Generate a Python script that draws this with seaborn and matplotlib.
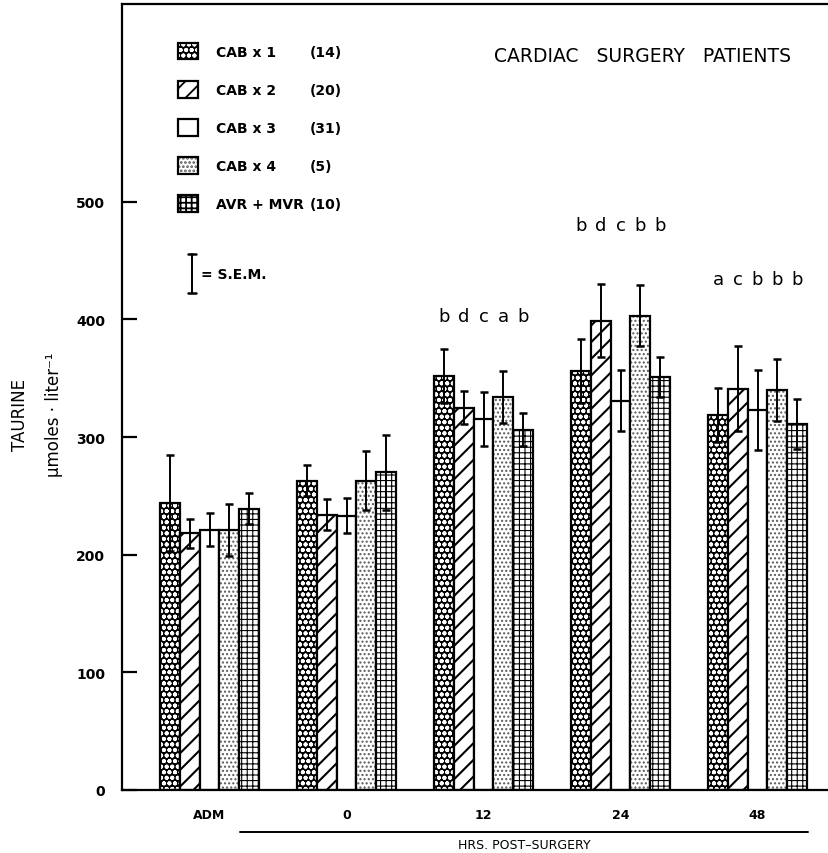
import matplotlib
matplotlib.use("Agg")
import matplotlib.pyplot as plt
import matplotlib.lines as mlines
import seaborn as sns
import pandas as pd
import numpy as np

# ---------------- data ----------------
times = ["ADM", "0", "12", "24", "48"]
groups = ["CAB x 1", "CAB x 2", "CAB x 3", "CAB x 4", "AVR + MVR"]
counts = ["(14)", "(20)", "(31)", "(5)", "(10)"]

cab1_mean = [244, 263, 352, 356, 319]
cab2_mean = [218, 234, 325, 399, 341]
cab3_mean = [221, 233, 315, 331, 323]
cab4_mean = [221, 263, 334, 403, 340]
avr_mean = [239, 270, 306, 351, 311]

cab1_sem = [41, 13, 23, 27, 23]
cab2_sem = [12, 13, 14, 31, 36]
cab3_sem = [14, 15, 23, 26, 34]
cab4_sem = [22, 25, 22, 26, 26]
avr_sem = [13, 32, 14, 17, 21]

sig_times = ["12", "24", "48"]
sig_letters = [["b", "d", "c", "a", "b"],
               ["b", "d", "c", "b", "b"],
               ["a", "c", "b", "b", "b"]]
sig_level = [403, 480, 434]

yticks = [0, 100, 200, 300, 400, 500]

means = [cab1_mean, cab2_mean, cab3_mean, cab4_mean, avr_mean]
sems = [cab1_sem, cab2_sem, cab3_sem, cab4_sem, avr_sem]

df = pd.DataFrame({
    "time": [t for g in groups for t in times],
    "group": [g for g in groups for t in times],
    "value": [v for m in means for v in m],
})

# ---------------- style ----------------
sns.set_style("ticks")
plt.rcParams["font.family"] = ["DejaVu Sans"]
plt.rcParams["hatch.linewidth"] = 1.3
for k in ["text.color", "axes.labelcolor", "xtick.color", "ytick.color", "axes.edgecolor"]:
    plt.rcParams[k] = "black"

W, H = 829, 854
fig = plt.figure(figsize=(W / 100, H / 100), dpi=100)
ax = fig.add_axes([122 / W, 63 / H, (W - 122) / W, 786 / H])

sns.barplot(data=df, x="time", y="value", hue="group", order=times,
            hue_order=groups, palette=["white"] * 5, width=0.72,
            errorbar=None, legend=False, ax=ax, saturation=1)

faces = ["black", "white", "white", "white", "white"]
hatches = ["ooo", "//", "", "....", "+++"]
hcolors = [(1, 1, 1, 1), (0, 0, 0, 1), (0, 0, 0, 1), (0.35, 0.35, 0.35, 1), (0, 0, 0, 1)]
hwidths = [1.3, 1.5, 1.0, 1.0, 0.8]

for cont, fc, ht, hc, hw, sem in zip(ax.containers, faces, hatches, hcolors, hwidths, sems):
    xs, hs = [], []
    for p in cont.patches:
        p.set_facecolor(fc)
        p.set_edgecolor("black")
        p.set_linewidth(1.6)
        p.set_hatch(ht)
        p._hatch_color = hc
        if hasattr(p, "set_hatch_linewidth"):
            p.set_hatch_linewidth(hw)
        xs.append(p.get_x() + p.get_width() / 2)
        hs.append(p.get_height())
    ax.errorbar(xs, hs, yerr=sem, fmt="none", ecolor="black",
                elinewidth=1.4, capsize=3.2, capthick=1.8, zorder=5)

# significance letters
for t, letters, lvl in zip(sig_times, sig_letters, sig_level):
    ti = times.index(t)
    for gi, letter in enumerate(letters):
        p = ax.containers[gi].patches[ti]
        ax.text(p.get_x() + p.get_width() / 2, lvl, letter, ha="center",
                va="center", fontsize=13)

ax.set_xlim(-0.639, -0.639 + (W - 122) / 137.0)
ax.set_ylim(0, 668)
ax.set_yticks(yticks)
ax.set_yticklabels([str(v) for v in yticks], fontsize=10, fontweight="bold")
ax.tick_params(axis="y", direction="in", length=11, width=1.6, pad=12)
ax.tick_params(axis="x", length=0, pad=13)
ax.set_xticklabels(times, fontsize=9, fontweight="bold")
ax.set_xlabel("")
ax.set_ylabel("")
for s in ["left", "bottom", "top"]:
    ax.spines[s].set_linewidth(1.6)
ax.spines["right"].set_visible(False)

# legend
handles = [ax.containers[i].patches[0] for i in range(5)]
common = dict(frameon=False, handleheight=1.45, labelspacing=1.55,
              borderpad=0, borderaxespad=0, loc="upper left",
              bbox_transform=fig.transFigure,
              prop={"weight": "bold", "size": 10})
leg1 = ax.legend(handles, groups, bbox_to_anchor=(178 / W, 1 - 44 / H),
                 handlelength=1.45, handletextpad=1.3, **common)
ax.add_artist(leg1)
blank = [mlines.Line2D([], [], linestyle="none") for _ in range(5)]
leg2 = ax.legend(blank, counts, bbox_to_anchor=(310 / W, 1 - 44 / H),
                 handlelength=0, handletextpad=0, **common)

# S.E.M. key
sx = 192 / W
y0, y1 = 1 - 294 / H, 1 - 255 / H
fig.add_artist(mlines.Line2D([sx, sx], [y0, y1], color="black", lw=1.4))
for yy in (y0, y1):
    fig.add_artist(mlines.Line2D([sx - 4 / W, sx + 4 / W], [yy, yy], color="black", lw=1.8))
fig.text(201 / W, 1 - 275 / H, "= S.E.M.", fontsize=10, fontweight="bold",
         ha="left", va="center")

# title
fig.text(643 / W, 1 - 56 / H, "CARDIAC   SURGERY   PATIENTS", fontsize=13.5,
         ha="center", va="center")

# y label
fig.text(20 / W, 1 - 415 / H, "TAURINE", rotation=90, fontsize=12,
         ha="center", va="center")
fig.text(54 / W, 1 - 415 / H, "µmoles · liter⁻¹", rotation=90, fontsize=12,
         ha="center", va="center")

# HRS. POST-SURGERY
fig.add_artist(mlines.Line2D([240 / W, 808 / W], [1 - 833 / H, 1 - 833 / H],
                             color="black", lw=1.4))
fig.text(524 / W, 1 - 846 / H, "HRS. POST–SURGERY", fontsize=9,
         ha="center", va="center")

fig.savefig("out.png", dpi=100)
